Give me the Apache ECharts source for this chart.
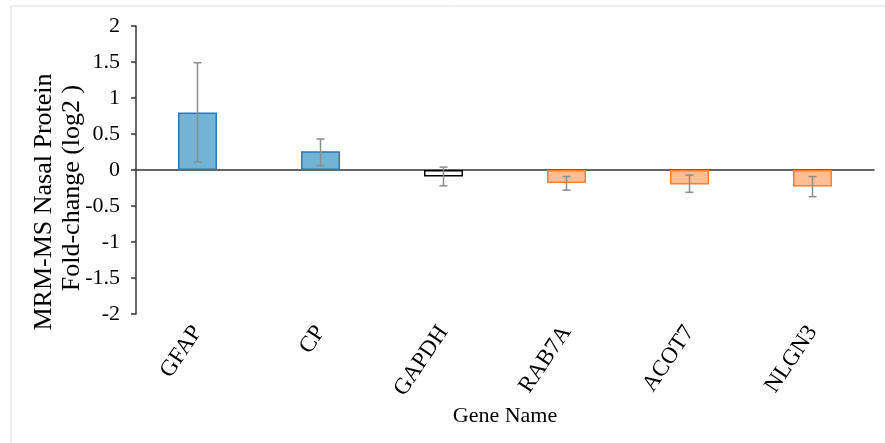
<!DOCTYPE html>
<html>
<head>
<meta charset="utf-8">
<script src="https://cdn.jsdelivr.net/npm/echarts@6/dist/echarts.min.js"></script>
<style>
html,body{margin:0;padding:0;background:#fff;}
#c{width:885px;height:443px;}
</style>
</head>
<body>
<div id="c"></div>
<script>
var categories = ['GFAP', 'CP', 'GAPDH', 'RAB7A', 'ACOT7', 'NLGN3'];
var foldChange = [0.80, 0.26, -0.09, -0.18, -0.20, -0.23];
var errLow = [0.11, 0.06, -0.22, -0.28, -0.31, -0.37];
var errHigh = [1.49, 0.43, 0.04, -0.09, -0.07, -0.09];
var direction = ['up', 'up', 'none', 'down', 'down', 'down'];
var yTicks = [-2, -1.5, -1, -0.5, 0, 0.5, 1, 1.5, 2];

var styleMap = {
  up: {color: '#71B4D6', borderColor: '#2A7AB8', borderWidth: 1.5},
  down: {color: '#FFBE94', borderColor: '#FF7F2A', borderWidth: 1.5},
  none: {color: '#ffffff', borderColor: '#000000', borderWidth: 1.5}
};
var FONT = '"Liberation Serif", "Times New Roman", serif';

var chart = echarts.init(document.getElementById('c'));
chart.setOption({
  animation: false,
  backgroundColor: '#ffffff',
  graphic: [
    {type: 'rect', shape: {x: 11, y: 6, width: 900, height: 500},
     style: {fill: 'none', stroke: '#dddddd', lineWidth: 1}, silent: true, z: -1},
    {type: 'text', x: 44, y: 202, rotation: Math.PI / 2,
     style: {text: 'MRM-MS Nasal Protein', font: '26px ' + FONT, fill: '#000',
             textAlign: 'center', textVerticalAlign: 'middle'}},
    {type: 'text', x: 72, y: 188, rotation: Math.PI / 2,
     style: {text: 'Fold-change (log2 )', font: '26px ' + FONT, fill: '#000',
             textAlign: 'center', textVerticalAlign: 'middle'}},
    {type: 'text', x: 505, y: 416,
     style: {text: 'Gene Name', font: '22px ' + FONT, fill: '#000',
             textAlign: 'center', textVerticalAlign: 'middle'}}
  ],
  grid: {left: 136, right: 11, top: 26, bottom: 129},
  xAxis: [
    {type: 'category', data: categories, position: 'top',
     axisLine: {onZero: true, lineStyle: {color: '#333', width: 1.5}},
     axisTick: {show: false}, axisLabel: {show: false}, splitLine: {show: false}},
    {type: 'category', data: categories, position: 'bottom',
     axisLine: {show: false, onZero: false}, axisTick: {show: false}, splitLine: {show: false},
     axisLabel: {rotate: 56, margin: 14, fontFamily: FONT, fontSize: 23, color: '#000', interval: 0}}
  ],
  yAxis: {type: 'value', min: yTicks[0], max: yTicks[yTicks.length - 1], interval: 0.5,
     axisLine: {show: true, onZero: false, lineStyle: {color: '#333', width: 1.5}},
     axisTick: {show: true, length: 5, lineStyle: {color: '#333', width: 1.5}},
     splitLine: {show: false},
     axisLabel: {margin: 16, fontFamily: FONT, fontSize: 22, color: '#000'}},
  series: [
    {type: 'bar', xAxisIndex: 0, barWidth: 39,
     data: foldChange.map(function (v, i) {
       return {value: v, itemStyle: styleMap[direction[i]]};
     })},
    {type: 'custom', xAxisIndex: 0, z: 5,
     data: categories.map(function (c, i) { return [i, errLow[i], errHigh[i]]; }),
     renderItem: function (params, api) {
       var lo = api.coord([api.value(0), api.value(1)]);
       var hi = api.coord([api.value(0), api.value(2)]);
       var x = lo[0], w = 4;
       var st = {stroke: '#8c8c8c', lineWidth: 1.5};
       return {type: 'group', children: [
         {type: 'line', shape: {x1: x, y1: lo[1], x2: x, y2: hi[1]}, style: st},
         {type: 'line', shape: {x1: x - w, y1: lo[1], x2: x + w, y2: lo[1]}, style: st},
         {type: 'line', shape: {x1: x - w, y1: hi[1], x2: x + w, y2: hi[1]}, style: st}
       ]};
     }}
  ]
});
</script>
</body>
</html>
